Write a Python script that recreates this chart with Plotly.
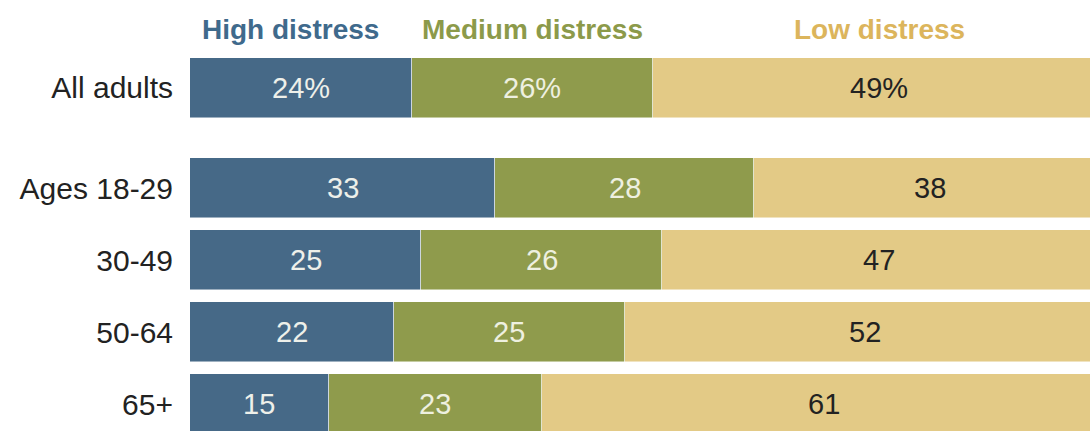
import plotly.graph_objects as go

categories = ["All adults", "Ages 18-29", "30-49", "50-64", "65+"]
high = [24, 33, 25, 22, 15]
medium = [26, 28, 26, 25, 23]
low = [49, 38, 47, 52, 61]
series_names = ["High distress", "Medium distress", "Low distress"]

# layout constants
ypos = [-1.39, 0, 1, 2, 3]
bar_colors = ["#466987", "#8f9b4c", "#e3ca86"]
head_colors = ["#3f6a8c", "#8c9a4a", "#dcb55c"]
text_colors = ["#eef0ea", "#eef0e0", "#222222"]
FONT = "Liberation Sans, Arial, sans-serif"

fig = go.Figure()
series = [high, medium, low]
for name, vals, col in zip(series_names, series, bar_colors):
    fig.add_trace(go.Bar(
        y=ypos, x=vals, name=name, orientation="h",
        marker=dict(color=col, line=dict(width=0.8, color="rgba(255,255,255,0.6)")),
        width=0.835, showlegend=False, hoverinfo="skip",
    ))

annotations = []
for i, cat in enumerate(categories):
    base = 0
    for s, vals in enumerate(series):
        v = vals[i]
        txt = f"{v}%" if i == 0 else f"{v}"
        annotations.append(dict(
            x=base + v / 2, y=ypos[i], xref="x", yref="y", text=txt,
            showarrow=False, font=dict(family=FONT, size=29, color=text_colors[s]),
        ))
        base += v

# column headers above the "All adults" bar
base = 0
for s, vals in enumerate(series):
    v = vals[0]
    annotations.append(dict(
        x=base + v / 2, y=1 - 30 / 431, xref="x", yref="paper",
        xanchor="center", yanchor="middle",
        text=f"<b>{series_names[s]}</b>", showarrow=False,
        xshift=-11 if s == 0 else 0,
        font=dict(family=FONT, size=28, color=head_colors[s]),
    ))
    base += v

fig.update_layout(
    barmode="stack", bargap=0,
    width=1090, height=431,
    margin=dict(l=190, r=0, t=0, b=0),
    paper_bgcolor="white", plot_bgcolor="white",
    annotations=annotations,
    xaxis=dict(range=[0, 900 / 9.25], visible=False, fixedrange=True),
    yaxis=dict(
        range=[(431 - 188) / 72, -188 / 72],
        tickvals=ypos, ticktext=categories,
        showgrid=False, zeroline=False, showline=False,
        ticks="", ticklabelstandoff=16,
        tickfont=dict(family=FONT, size=30, color="#222222"),
    ),
)

fig.write_html("out.html")
